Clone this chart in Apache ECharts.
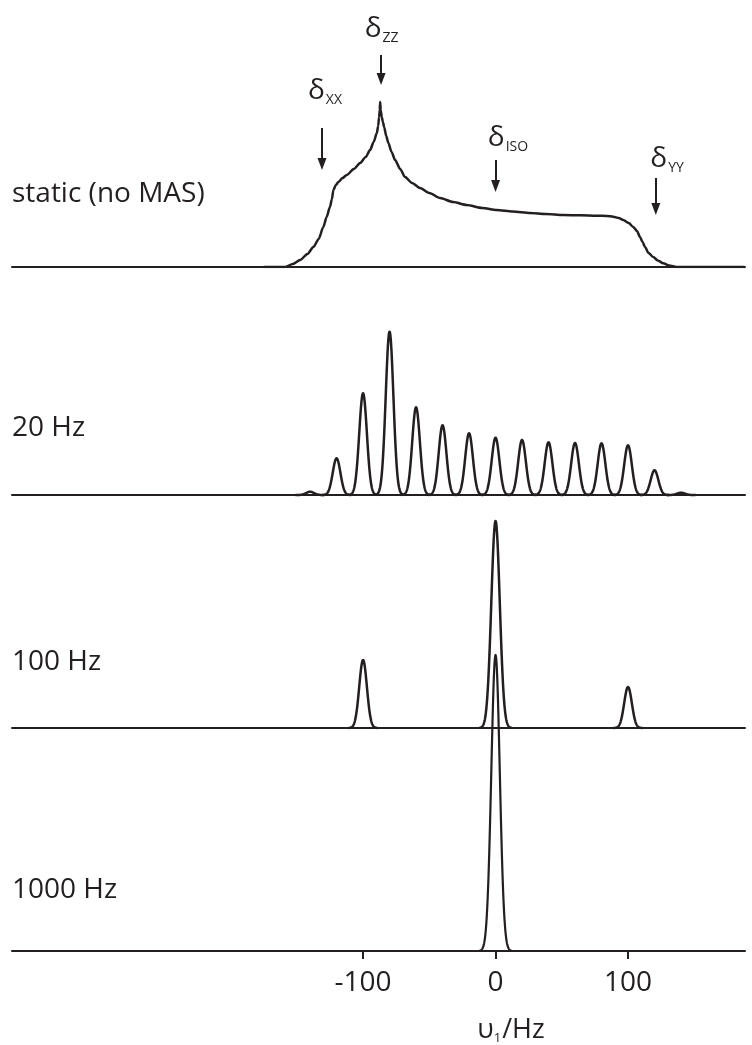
<!DOCTYPE html>
<html><head><meta charset="utf-8">
<script src="https://cdn.jsdelivr.net/npm/echarts@6/dist/echarts.min.js"></script>
<style>html,body{margin:0;padding:0;background:#fff}#c{width:752px;height:1045px}</style>
</head><body><div id="c"></div>
<script>
// ---------- data ----------
const spectrumLabels = ['static (no MAS)', '20 Hz', '100 Hz', '1000 Hz'];
const tickLabels = [-100, 0, 100];

// static powder pattern (frequency in Hz, intensity in arbitrary units)
const staticFreq = [-175, -159, -153, -147.5, -142, -137.5, -133.5, -130, -127.5, -125, -123.5, -122.4, -120.5, -118.6, -115.5, -112.3, -107, -102.2, -98, -94.7, -92, -89.6, -88.6, -87.9, -87.4, -87.1, -86.7, -85.9, -85, -84.1, -82.5, -80.9, -78.5, -75.8, -72, -68.3, -63, -57, -50, -41.9, -32, -21.8, -10, 0.8, 13, 26, 38, 51.2, 64, 76.3, 84, 88.9, 93, 96.4, 100.5, 104, 106.8, 109, 111, 112.8, 115.5, 119, 122.5, 126.6, 131, 136.7, 150, 188];
const staticInt  = [0, 0, 3, 7, 13, 20, 28, 40, 50, 60, 68, 77, 82, 85, 89, 92, 98, 104, 110, 117, 125, 134, 141, 150, 157, 165, 157, 150, 145, 140, 131, 124, 115, 107, 98, 90, 84, 79, 74, 69, 65, 62, 59, 57, 55.5, 54, 53, 52, 51.7, 51.3, 51, 50.3, 49, 47, 44, 40, 36, 30, 25, 20, 14, 10, 6.5, 3.7, 1.6, 0, 0, 0];

// MAS spectra: peak positions (Hz), peak heights, linewidths (Gaussian sigma, Hz)
const freq20  = [-140, -120, -100, -80, -60, -40, -20, 0, 20, 40, 60, 80, 100, 120, 140];
const int20   = [3.3, 36.7, 101.7, 163.3, 87.7, 69.7, 61.7, 57.3, 55, 52.7, 52, 51.7, 49.7, 24.7, 2.3];
const sigma20 = [2.9, 2.9, 2.9, 2.9, 2.9, 2.9, 2.9, 2.9, 2.9, 2.9, 2.9, 2.9, 2.9, 2.9, 2.9];

const freq100  = [-100, 0, 100];
const int100   = [68, 207, 41];
const sigma100 = [2.9, 3.2, 2.9];

const freq1000  = [0];
const int1000   = [296];
const sigma1000 = [3.2];

// chemical-shift tensor annotations (data units of the static spectrum)
const tensorNames   = ['XX', 'ZZ', 'ISO', 'YY'];
const arrowFreq     = [-131, -86.4, 0, 121];
const arrowFrom     = [139, 212, 107, 89];
const arrowTo       = [97, 182, 75, 52];
const tensorLblFreq = [-128.7, -86, 9.4, 129.5];
const tensorLblInt  = [176, 238, 129, 108];

// ---------- chart ----------
const INK = '#231f20';
const FONT = "'Open Sans', sans-serif";
const X_MIN = -365, X_MAX = 188.3;

const gridTops    = [0, 280, 500, 640];
const gridHeights = [267, 215, 228, 311];
const labelTops   = [180, 414, 648, 876];

const grids = gridTops.map((t, i) => ({ left: 12, width: 733, top: t, height: gridHeights[i] }));

const xAxes = grids.map((g, i) => {
  const last = i === grids.length - 1;
  return {
    type: 'value', gridIndex: i, min: X_MIN, max: X_MAX,
    axisLine: { show: true, onZero: false, lineStyle: { color: INK, width: 2 } },
    axisTick: last ? { show: true, customValues: tickLabels, length: 8, lineStyle: { color: INK, width: 2 } } : { show: false },
    axisLabel: last ? { show: true, customValues: tickLabels, margin: 18, fontSize: 28, fontFamily: FONT, color: INK } : { show: false },
    splitLine: { show: false }
  };
});
const yAxes = grids.map((g, i) => ({
  type: 'value', gridIndex: i, min: 0, max: gridHeights[i], show: false, splitLine: { show: false }
}));

function peakSeries(idx, freqs, ints, sigmas, lw) {
  return {
    type: 'custom', xAxisIndex: idx, yAxisIndex: idx, clip: false, silent: true,
    data: freqs.map((f, i) => [f, ints[i], sigmas[i]]),
    renderItem: function (params, api) {
      const c = api.value(0), h = api.value(1), s = api.value(2);
      const pts = [];
      const N = 60;
      for (let k = -N; k <= N; k++) {
        const dx = (k / N) * 3.8 * s;
        pts.push(api.coord([c + dx, h * Math.exp(-dx * dx / (2 * s * s))]));
      }
      return { type: 'polyline', shape: { points: pts }, style: { stroke: INK, lineWidth: lw, fill: 'none', lineJoin: 'round' } };
    }
  };
}

const subRich = {
  d: { fontSize: 28, fontFamily: FONT, color: INK },
  s: { fontSize: 14, fontFamily: FONT, color: INK, padding: [19, 0, 0, 1] }
};

const option = {
  animation: false,
  backgroundColor: '#fff',
  grid: grids,
  xAxis: xAxes,
  yAxis: yAxes,
  title: spectrumLabels.map((t, i) => ({
    text: t, left: 12, top: labelTops[i], padding: 0,
    textStyle: { fontFamily: FONT, fontSize: 28, fontWeight: 'normal', color: INK }
  })),
  graphic: [{
    type: 'text', x: 511, y: 1030,
    style: {
      text: '{a|υ}{b|1}{a|/Hz}', align: 'center', verticalAlign: 'middle',
      rich: {
        a: { fontSize: 27, fontFamily: FONT, fill: INK, color: INK },
        b: { fontSize: 13, fontFamily: FONT, fill: INK, color: INK, padding: [16, 1, 0, 0] }
      }
    }
  }],
  series: [
    {
      type: 'line', xAxisIndex: 0, yAxisIndex: 0, silent: true,
      data: staticFreq.map((f, i) => [f, staticInt[i]]),
      symbol: 'none', smooth: 0.25, smoothMonotone: 'x',
      lineStyle: { color: INK, width: 2.5 },
      markLine: {
        silent: true, symbol: ['none', 'triangle'], symbolSize: [9, 12],
        lineStyle: { color: INK, width: 2, type: 'solid' },
        label: { show: false },
        data: arrowFreq.map((f, i) => [{ coord: [f, arrowFrom[i]] }, { coord: [f, arrowTo[i] + 6] }])
      },
      markPoint: {
        silent: true, symbol: 'circle', symbolSize: 1,
        itemStyle: { color: 'rgba(0,0,0,0)' },
        label: { show: true, position: 'inside', rich: subRich },
        data: tensorNames.map((n, i) => ({
          coord: [tensorLblFreq[i], tensorLblInt[i]],
          label: { formatter: '{d|δ}{s|' + n + '}' }
        }))
      }
    },
    peakSeries(1, freq20, int20, sigma20, 2.5),
    peakSeries(2, freq100, int100, sigma100, 2.5),
    peakSeries(3, freq1000, int1000, sigma1000, 2.2)
  ]
};

const chart = echarts.init(document.getElementById('c'), null, { renderer: 'canvas' });
chart.setOption(option);
</script>
</body></html>
